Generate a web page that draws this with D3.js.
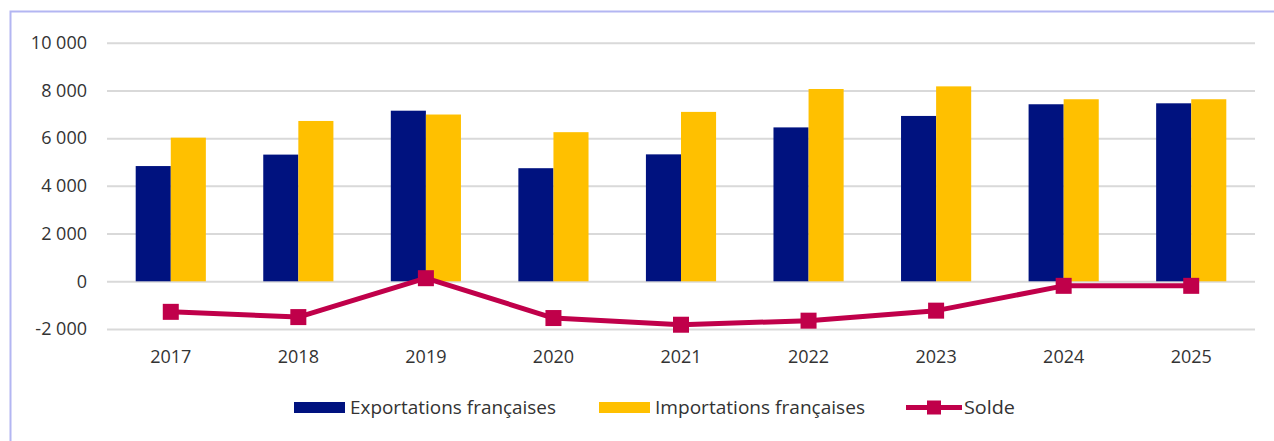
<!DOCTYPE html>
<html>
<head>
<meta charset="utf-8">
<script src="https://cdn.jsdelivr.net/npm/d3@7"></script>
<style>
  html, body { margin: 0; padding: 0; background: #fff; }
  svg { display: block; }
</style>
</head>
<body>
<svg id="chart"></svg>
<script>
const years = ["2017", "2018", "2019", "2020", "2021", "2022", "2023", "2024", "2025"]
const exportations = [4830, 5310, 7150, 4740, 5320, 6450, 6930, 7420, 7460]
const importations = [6020, 6720, 6990, 6250, 7100, 8060, 8170, 7630, 7630]
const solde = [-1280, -1500, 130, -1540, -1820, -1650, -1230, -190, -190]
const yTicks = [-2000, 0, 2000, 4000, 6000, 8000, 10000]
const seriesNames = ["Exportations françaises", "Importations françaises", "Solde"]

const width = 1274
const height = 441
const colors = { exp: "#00127f", imp: "#ffc000", solde: "#c0004a", grid: "#d9d9d9", text: "#333333" }
const font = "'Open Sans', sans-serif"

const svg = d3.select("#chart")
  .attr("width", width)
  .attr("height", height)
  .attr("viewBox", [0, 0, width, height])

// frame
svg.append("rect")
  .attr("x", 10.5)
  .attr("y", 11.5)
  .attr("width", width + 20)
  .attr("height", height + 20)
  .attr("fill", "none")
  .attr("stroke", "#b3b6f2")
  .attr("stroke-width", 2)

const plot = { left: 107, right: 1255 }

const y = d3.scaleLinear()
  .domain([0, 10000])
  .range([281.3, 42.7])

const x0 = d3.scaleBand()
  .domain(years)
  .range([plot.left, plot.right])
  .paddingInner(0.45)
  .paddingOuter(0.225)

const x1 = d3.scaleBand()
  .domain(["exp", "imp"])
  .range([0, x0.bandwidth()])

const fr = d3.formatLocale({ decimal: ",", thousands: "\u00a0", grouping: [3], currency: ["", " €"] })
const fmt = fr.format(",.0f")

// grid + y labels
const yAxis = d3.axisLeft(y)
  .tickValues(yTicks)
  .tickSize(-(plot.right - plot.left))
  .tickPadding(20)
  .tickFormat(d => fmt(d).replace("−", "-"))

svg.append("g")
  .attr("transform", `translate(${plot.left},0)`)
  .call(yAxis)
  .call(g => g.select(".domain").remove())
  .call(g => g.selectAll(".tick line").attr("stroke", colors.grid).attr("stroke-width", 2))
  .call(g => g.selectAll(".tick text")
    .attr("fill", colors.text)
    .attr("font-family", font)
    .attr("font-size", 18))

// bars
const groups = svg.append("g")
  .selectAll("g")
  .data(years.map((yr, i) => ({ yr, exp: exportations[i], imp: importations[i] })))
  .join("g")
  .attr("transform", d => `translate(${x0(d.yr)},0)`)

groups.selectAll("rect")
  .data(d => ["exp", "imp"].map(k => ({ k, v: d[k] })))
  .join("rect")
  .attr("x", d => x1(d.k))
  .attr("y", d => y(d.v))
  .attr("width", x1.bandwidth())
  .attr("height", d => y(0) - y(d.v))
  .attr("fill", d => colors[d.k])

// x labels
const xAxis = d3.axisBottom(x0).tickSize(0).tickPadding(0)
svg.append("g")
  .attr("transform", "translate(0,350)")
  .call(xAxis)
  .call(g => g.select(".domain").remove())
  .call(g => g.selectAll(".tick text")
    .attr("fill", colors.text)
    .attr("font-family", font)
    .attr("font-size", 18))

// solde line
const cx = d => x0(d.yr) + x0.bandwidth() / 2
const soldeData = years.map((yr, i) => ({ yr, v: solde[i] }))

const line = d3.line()
  .x(cx)
  .y(d => y(d.v))

svg.append("path")
  .datum(soldeData)
  .attr("d", line)
  .attr("fill", "none")
  .attr("stroke", colors.solde)
  .attr("stroke-width", 5)
  .attr("stroke-linejoin", "round")

const mk = 16
svg.append("g")
  .selectAll("rect")
  .data(soldeData)
  .join("rect")
  .attr("x", d => cx(d) - mk / 2)
  .attr("y", d => y(d.v) - mk / 2)
  .attr("width", mk)
  .attr("height", mk)
  .attr("fill", colors.solde)

// legend
const legend = svg.append("g").attr("font-family", font).attr("font-size", 18).attr("fill", colors.text)
const legY = 407.5
const legItems = [
  { name: seriesNames[0], x: 294, type: "rect", color: colors.exp, w: 206 },
  { name: seriesNames[1], x: 599, type: "rect", color: colors.imp, w: 210 },
  { name: seriesNames[2], x: 906, type: "line", color: colors.solde, w: 51 }
]
legItems.forEach(it => {
  const g = legend.append("g").attr("transform", `translate(${it.x},${legY})`)
  if (it.type === "rect") {
    g.append("rect").attr("x", 0).attr("y", -5.5).attr("width", 51).attr("height", 11).attr("fill", it.color)
  } else {
    g.append("line").attr("x1", 0).attr("x2", 56).attr("y1", 0).attr("y2", 0)
      .attr("stroke", it.color).attr("stroke-width", 5)
    g.append("rect").attr("x", 21).attr("y", -7).attr("width", 14).attr("height", 14).attr("fill", it.color)
  }
  g.append("text")
    .attr("x", it.type === "rect" ? 56 : 58)
    .attr("y", 0)
    .attr("dy", "0.35em")
    .attr("textLength", it.w)
    .attr("lengthAdjust", "spacingAndGlyphs")
    .text(it.name)
})
</script>
</body>
</html>
